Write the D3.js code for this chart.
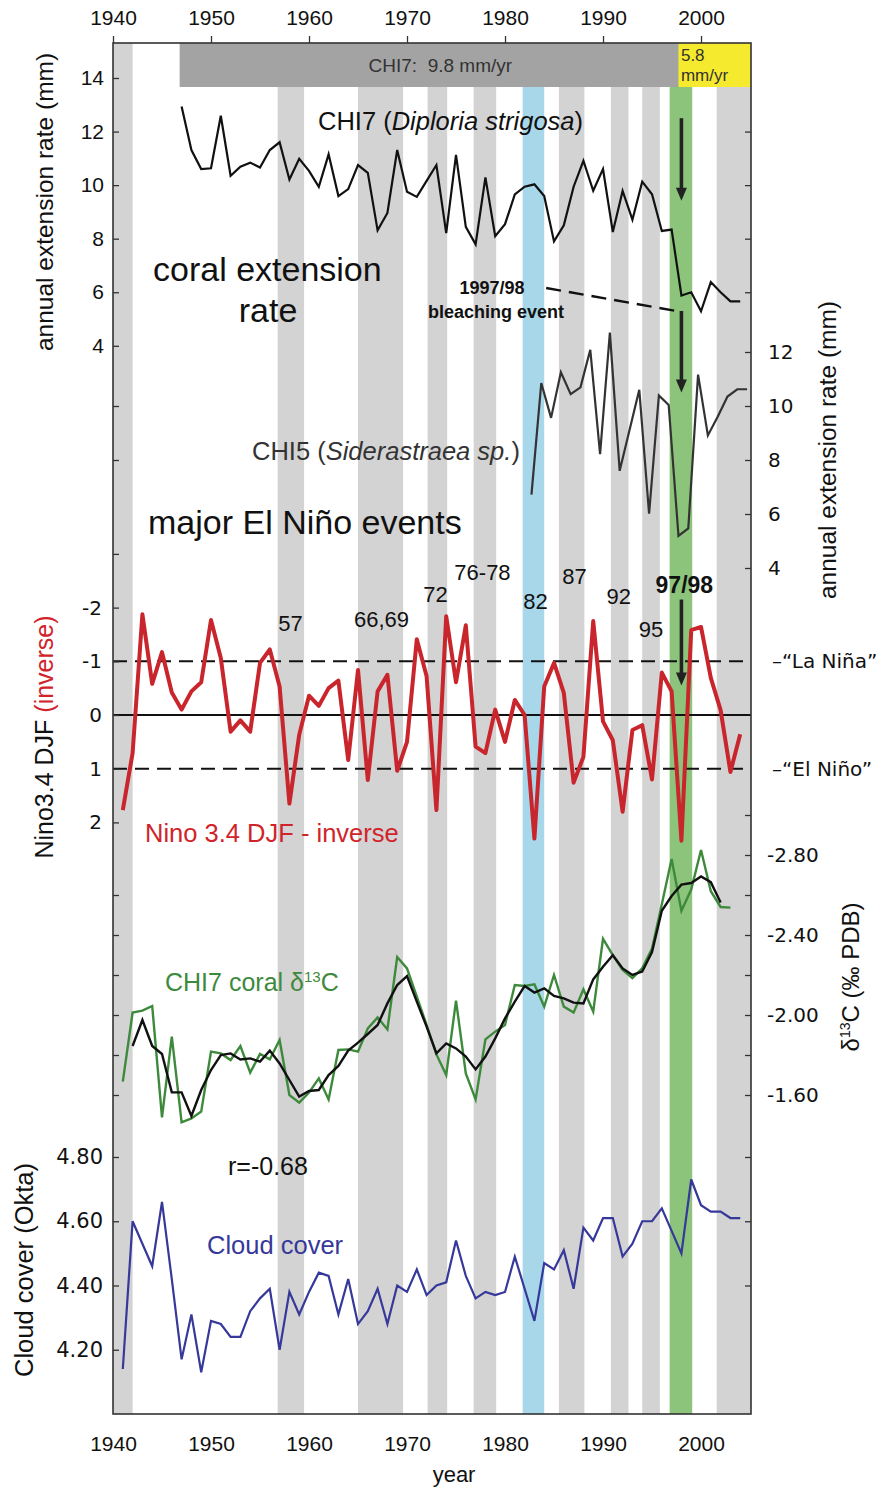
<!DOCTYPE html>
<html><head><meta charset="utf-8">
<script src="https://cdn.jsdelivr.net/npm/d3@7"></script>
<style>
body{margin:0;background:#fff;}
svg{display:block;font-family:"Liberation Sans",Arial,sans-serif;}
.ax path.domain{display:none;}
.ax line{stroke:#333;stroke-width:1.3;}
.ax text{fill:#111;}
</style></head><body>
<svg id="chart" width="877" height="1489"></svg>
<script>
// ---------------- DATA ----------------
const yearTicks = [1940, 1950, 1960, 1970, 1980, 1990, 2000];

// El Niño shading bands [start, end] (years)
const ninoBands = [[1940, 1942], [1956.8, 1959.5], [1965, 1969.6], [1972.1, 1974.1], [1976.8, 1979.1],
                   [1985.5, 1988.1], [1990.8, 1992.6], [1994.0, 1995.8], [2001.6, 2005.1]];
const band8283 = [1981.8, 1984.0];
const band9798 = [1996.8, 1999.1];
const chi7Period = [1946.8, 1997.7];
const chi7PostPeriod = [1997.7, 2005.1];

// CHI7 (Diploria strigosa) annual extension rate (mm), 1947-2004
const chi7Years = d3.range(1947, 2005);
const chi7Ext = [12.94, 11.31, 10.6, 10.63, 12.59, 10.35, 10.69, 10.84, 10.66, 11.31,
                 11.6, 10.21, 10.98, 10.53, 9.94, 11.15, 9.59, 9.85, 10.75, 10.46,
                 8.31, 8.96, 11.31, 9.75, 9.56, 10.16, 10.75, 8.21, 11.13, 8.44,
                 7.79, 10.29, 8.09, 8.54, 9.65, 9.94, 10.03, 9.59, 7.9, 8.5,
                 9.94, 10.91, 9.79, 10.6, 8.25, 9.78, 8.71, 10.13, 9.66, 8.29,
                 8.34, 5.88, 6.0, 5.29, 6.38, 6.0, 5.66, 5.66];

// CHI5 (Siderastraea sp.) annual extension rate (mm)
const chi5Years = [1982.7, 1983.7, 1984.7, 1985.7, 1986.7, 1987.7, 1988.7, 1989.7, 1990.7, 1991.7,
                   1992.7, 1993.7, 1994.7, 1995.7, 1996.7, 1997.7, 1998.7, 1999.7, 2000.7, 2001.7,
                   2002.7, 2003.7, 2004.7];
const chi5Ext = [6.72, 10.85, 9.56, 11.25, 10.44, 10.69, 12.08, 8.22, 12.72, 7.6,
                 9.1, 10.6, 6.01, 10.39, 10.04, 5.19, 5.47, 11.16, 8.91, 9.6,
                 10.35, 10.62, 10.62];

// Nino3.4 DJF (inverse), 1941-2004
const ninoYears = d3.range(1941, 2005);
const ninoInv = [1.77, 0.71, -1.875, -0.58, -1.17, -0.42, -0.1, -0.44, -0.61, -1.77,
                 -1.06, 0.31, 0.1, 0.31, -0.97, -1.22, -0.53, 1.65, 0.37, -0.36,
                 -0.17, -0.5, -0.64, 0.84, -0.84, 1.21, -0.44, -0.75, 1.04, 0.5,
                 -1.41, -0.72, 1.77, -1.84, -0.61, -1.67, 0.59, 0.71, -0.1, 0.5,
                 -0.28, 0.0, 2.3, -0.53, -0.97, -0.41, 1.26, 0.78, -1.75, 0.12,
                 0.47, 1.8, 0.28, 0.19, 1.2, -0.79, -0.44, 2.34, -1.58, -1.64,
                 -0.69, -0.09, 1.06, 0.36];

// CHI7 coral d13C (per mil PDB), 1941-2003
const d13Years = d3.range(1941, 2004);
const d13Raw = [-1.667, -2.012, -2.022, -2.045, -1.488, -1.892, -1.463, -1.483, -1.517, -1.817,
                -1.808, -1.775, -1.845, -1.712, -1.805, -1.778, -1.875, -1.60, -1.562, -1.612,
                -1.683, -1.578, -1.825, -1.828, -1.817, -1.933, -1.988, -1.928, -2.29, -2.233,
                -2.092, -1.95, -1.803, -1.70, -2.072, -1.708, -1.578, -1.878, -1.917, -1.95,
                -2.15, -2.145, -2.153, -2.042, -2.2, -2.042, -2.012, -2.128, -2.017, -2.381,
                -2.299, -2.225, -2.184, -2.233, -2.332, -2.554, -2.78, -2.521, -2.627, -2.825,
                -2.619, -2.54, -2.537];
// smoothed d13C, 1942-2002
const d13SmYears = d3.range(1942, 2003);
const d13Smooth = [-1.845, -1.975, -1.845, -1.805, -1.613, -1.613, -1.495, -1.625, -1.725, -1.8,
                   -1.808, -1.778, -1.783, -1.767, -1.822, -1.758, -1.675, -1.592, -1.62, -1.625,
                   -1.7, -1.745, -1.822, -1.862, -1.905, -1.95, -2.058, -2.15, -2.195, -2.067,
                   -1.942, -1.808, -1.858, -1.833, -1.792, -1.728, -1.792, -1.883, -1.983, -2.067,
                   -2.145, -2.112, -2.133, -2.095, -2.083, -2.062, -2.058, -2.178, -2.241, -2.299,
                   -2.233, -2.2, -2.217, -2.315, -2.521, -2.595, -2.652, -2.66, -2.693, -2.664,
                   -2.562];

// Cloud cover (Okta), 1941-2004
const cloudYears = d3.range(1941, 2005);
const cloud = [4.14, 4.60, 4.53, 4.46, 4.66, 4.42, 4.17, 4.31, 4.13, 4.29,
               4.28, 4.24, 4.24, 4.32, 4.36, 4.39, 4.20, 4.38, 4.31, 4.38,
               4.44, 4.43, 4.31, 4.42, 4.28, 4.32, 4.39, 4.28, 4.40, 4.38,
               4.45, 4.37, 4.40, 4.41, 4.54, 4.43, 4.36, 4.38, 4.37, 4.38,
               4.49, 4.39, 4.29, 4.47, 4.45, 4.51, 4.39, 4.58, 4.54, 4.61,
               4.61, 4.49, 4.53, 4.60, 4.60, 4.64, 4.57, 4.50, 4.73, 4.65,
               4.63, 4.63, 4.61, 4.61];

const eventLabels = [
  {t: "57", yr: 1958.1, v: -1.72, bold: false},
  {t: "66,69", yr: 1967.4, v: -1.78, bold: false},
  {t: "72", yr: 1972.9, v: -2.25, bold: false},
  {t: "76-78", yr: 1977.7, v: -2.66, bold: false},
  {t: "82", yr: 1983.1, v: -2.12, bold: false},
  {t: "87", yr: 1987.1, v: -2.59, bold: false},
  {t: "92", yr: 1991.6, v: -2.22, bold: false},
  {t: "95", yr: 1994.9, v: -1.6, bold: false},
  {t: "97/98", yr: 1998.3, v: -2.42, bold: true}
];

// ---------------- SCALES ----------------
const X0 = 113, X1 = 751, Y0 = 43, Y1 = 1414;
const x = d3.scaleLinear().domain([1940, 2005.1]).range([X0, X1]);
const yChi7 = d3.scaleLinear().domain([4, 14]).range([345.8, 78]);
const yChi5 = d3.scaleLinear().domain([4, 12]).range([568, 352]);
const yNino = d3.scaleLinear().domain([-2, 2]).range([607.6, 822.4]);
const yD13 = d3.scaleLinear().domain([-2.8, -1.6]).range([855, 1095]);
const yCloud = d3.scaleLinear().domain([4.0, 4.8]).range([Y1, 1157]);

const svg = d3.select("#chart");

// ---------------- BACKGROUND BANDS ----------------
const gB = svg.append("g");
gB.selectAll("rect.nb").data(ninoBands).join("rect")
  .attr("x", d => x(d[0])).attr("width", d => x(d[1]) - x(d[0]))
  .attr("y", Y0).attr("height", Y1 - Y0).attr("fill", "#d3d3d3");
gB.append("rect").attr("x", x(band8283[0])).attr("width", x(band8283[1]) - x(band8283[0]))
  .attr("y", Y0).attr("height", Y1 - Y0).attr("fill", "#a9d7ea");
gB.append("rect").attr("x", x(band9798[0])).attr("width", x(band9798[1]) - x(band9798[0]))
  .attr("y", Y0).attr("height", Y1 - Y0).attr("fill", "#8dc47c");
// CHI7 mean-rate bars
gB.append("rect").attr("x", x(chi7Period[0])).attr("width", x(chi7Period[1]) - x(chi7Period[0]))
  .attr("y", Y0).attr("height", 44).attr("fill", "#a3a3a3");
gB.append("rect").attr("x", x(chi7PostPeriod[0])).attr("width", x(chi7PostPeriod[1]) - x(chi7PostPeriod[0]))
  .attr("y", Y0).attr("height", 44).attr("fill", "#f6ea2e");
svg.append("text").attr("x", x(1973.4)).attr("y", 72).attr("text-anchor", "middle")
  .attr("font-size", 19).attr("fill", "#333").style("white-space", "pre").text("CHI7:  9.8 mm/yr");
svg.append("text").attr("x", x(1997.95)).attr("y", 61).attr("font-size", 17).attr("fill", "#333").text("5.8");
svg.append("text").attr("x", x(1997.95)).attr("y", 81).attr("font-size", 17).attr("fill", "#333").text("mm/yr");

// ---------------- REFERENCE LINES ----------------
svg.append("line").attr("x1", X0).attr("x2", X1).attr("y1", yNino(0)).attr("y2", yNino(0))
  .attr("stroke", "#111").attr("stroke-width", 1.8);
[-1, 1].forEach(v => {
  svg.append("line").attr("x1", X0).attr("x2", X1).attr("y1", yNino(v)).attr("y2", yNino(v))
    .attr("stroke", "#111").attr("stroke-width", 2).attr("stroke-dasharray", "14,8");
});

// ---------------- SERIES ----------------
const line = (xs, ys, ysc) => d3.line().x((d, i) => x(xs[i])).y(d => ysc(d))(ys);

svg.append("path").attr("d", line(chi7Years, chi7Ext, yChi7))
  .attr("fill", "none").attr("stroke", "#111").attr("stroke-width", 2.2);
svg.append("path").attr("d", line(chi5Years, chi5Ext, yChi5))
  .attr("fill", "none").attr("stroke", "#333").attr("stroke-width", 2.2);
svg.append("path").attr("d", line(ninoYears, ninoInv, yNino))
  .attr("fill", "none").attr("stroke", "#c9252c").attr("stroke-width", 4).attr("stroke-linejoin", "round");
svg.append("path").attr("d", line(d13Years, d13Raw, yD13))
  .attr("fill", "none").attr("stroke", "#3e8a3c").attr("stroke-width", 2.4);
svg.append("path").attr("d", line(d13SmYears, d13Smooth, yD13))
  .attr("fill", "none").attr("stroke", "#111").attr("stroke-width", 2.4);
svg.append("path").attr("d", line(cloudYears, cloud, yCloud))
  .attr("fill", "none").attr("stroke", "#36389a").attr("stroke-width", 2.2);

// ---------------- FRAME & AXES ----------------
svg.append("rect").attr("x", X0).attr("y", Y0).attr("width", X1 - X0).attr("height", Y1 - Y0)
  .attr("fill", "none").attr("stroke", "#333").attr("stroke-width", 1.6);

function addAxis(axis, tx, ty, font, size) {
  const g = svg.append("g").attr("class", "ax").attr("transform", `translate(${tx},${ty})`).call(axis);
  g.selectAll("text").attr("font-size", size).attr("font-family", font);
  return g;
}
const fmtH = d => String(d);
const dejavu = '"DejaVu Sans", sans-serif';
const lib = '"Liberation Sans", Arial, sans-serif';

addAxis(d3.axisTop(x).tickValues(yearTicks).tickFormat(fmtH).tickSize(7).tickPadding(11), 0, Y0, lib, 21);
addAxis(d3.axisBottom(x).tickValues(yearTicks).tickFormat(fmtH).tickSize(0).tickPadding(22), 0, Y1, lib, 21);

addAxis(d3.axisLeft(yChi7).tickValues([14, 12, 10, 8, 6, 4]).tickFormat(fmtH).tickSize(-6).tickPadding(9), X0, 0, lib, 21);
addAxis(d3.axisLeft(yChi5).tickValues([10, 8]).tickFormat("").tickSize(-6), X0, 0, lib, 20);
addAxis(d3.axisLeft(yNino).tickValues([-3, -2, -1, 0, 1, 2]).tickFormat(d => d === -3 ? "" : String(d)).tickSize(-6).tickPadding(11), X0, 0, dejavu, 20);
addAxis(d3.axisLeft(yD13).tickValues([-2.6, -2.4, -2.2, -2.0, -1.8, -1.6]).tickFormat("").tickSize(-6), X0, 0, lib, 20);
addAxis(d3.axisLeft(yCloud).tickValues([4.8, 4.6, 4.4, 4.2]).tickFormat(d => d.toFixed(2)).tickSize(-6).tickPadding(10), X0, 0, dejavu, 21);

addAxis(d3.axisRight(yChi7).tickValues([12, 10, 8, 6]).tickFormat("").tickSize(-6), X1, 0, lib, 20);
addAxis(d3.axisRight(yChi5).tickValues([12, 10, 8, 6, 4]).tickFormat(fmtH).tickSize(-6).tickPadding(17), X1, 0, dejavu, 20);
addAxis(d3.axisRight(yD13).tickValues([-3.0, -2.8, -2.6, -2.4, -2.2, -2.0, -1.8, -1.6])
  .tickFormat(d => [-2.8, -2.4, -2.0, -1.6].some(v => Math.abs(v - d) < 1e-6) ? d.toFixed(2) : "")
  .tickSize(-6).tickPadding(16), X1, 0, dejavu, 20);
addAxis(d3.axisRight(yCloud).tickValues([4.8, 4.6, 4.4]).tickFormat("").tickSize(-6), X1, 0, lib, 20);

// right-side La Niña / El Niño labels
svg.append("text").attr("x", X1 + 21).attr("y", yNino(-1) + 7).attr("font-size", 20).attr("font-family", dejavu).attr("fill", "#111").text("–“La Niña”");
svg.append("text").attr("x", X1 + 21).attr("y", yNino(1) + 7).attr("font-size", 20).attr("font-family", dejavu).attr("fill", "#111").text("–“El Niño”");

// axis titles
function vtitle(cx, cy, size) {
  return svg.append("text").attr("transform", `translate(${cx},${cy}) rotate(-90)`)
    .attr("text-anchor", "middle").attr("font-size", size).attr("fill", "#111");
}
vtitle(53, 202, 24.5).text("annual extension rate (mm)");
const nt = vtitle(53, 737, 25);
nt.append("tspan").text("Nino3.4 DJF ");
nt.append("tspan").attr("fill", "#d1232a").text("(inverse)");
vtitle(33, 1270, 25.5).text("Cloud cover (Okta)");
vtitle(836, 450, 23).attr("textLength", 298).attr("lengthAdjust", "spacingAndGlyphs").text("annual extension rate (mm)");
const dt = vtitle(859, 977, 24);
dt.append("tspan").text("δ");
dt.append("tspan").attr("font-size", 14).attr("dy", -9).text("13");
dt.append("tspan").attr("dy", 9).text("C (‰ PDB)");
svg.append("text").attr("x", x(1974.8)).attr("y", 1482).attr("text-anchor", "middle").attr("font-size", 22).attr("fill", "#111").text("year");

// ---------------- ANNOTATIONS ----------------
const chiT = svg.append("text").attr("x", 318).attr("y", 130).attr("font-size", 25.5).attr("fill", "#111");
chiT.append("tspan").text("CHI7 (");
chiT.append("tspan").attr("font-style", "italic").text("Diploria strigosa");
chiT.append("tspan").text(")");

svg.append("text").attr("x", 153).attr("y", 281).attr("font-size", 34).attr("fill", "#111").text("coral extension");
svg.append("text").attr("x", 268).attr("y", 322).attr("text-anchor", "middle").attr("font-size", 34).attr("fill", "#111").text("rate");

svg.append("text").attr("x", 492).attr("y", 294).attr("text-anchor", "middle").attr("font-size", 18).attr("font-weight", "bold").attr("fill", "#111").text("1997/98");
svg.append("text").attr("x", 496).attr("y", 318).attr("text-anchor", "middle").attr("font-size", 18).attr("font-weight", "bold").attr("fill", "#111").text("bleaching event");

const c5 = svg.append("text").attr("x", 252).attr("y", 460).attr("font-size", 25.5).attr("fill", "#333");
c5.append("tspan").text("CHI5 (");
c5.append("tspan").attr("font-style", "italic").text("Siderastraea sp.");
c5.append("tspan").text(")");

svg.append("text").attr("x", 148).attr("y", 534).attr("font-size", 34).attr("fill", "#111").text("major El Niño events");

svg.selectAll("text.ev").data(eventLabels).join("text").attr("class", "ev")
  .attr("x", d => x(d.yr)).attr("y", d => yNino(d.v) + 8).attr("text-anchor", "middle")
  .attr("font-size", d => d.bold ? 23 : 22).attr("font-weight", d => d.bold ? "bold" : "normal")
  .attr("fill", "#111").text(d => d.t);

svg.append("text").attr("x", 145).attr("y", 842).attr("font-size", 25.5).attr("fill", "#d1232a").text("Nino 3.4 DJF - inverse");

const gt = svg.append("text").attr("x", 165).attr("y", 991).attr("font-size", 25).attr("fill", "#3e8a3c");
gt.append("tspan").text("CHI7 coral δ");
gt.append("tspan").attr("font-size", 15).attr("dy", -9).text("13");
gt.append("tspan").attr("dy", 9).text("C");

svg.append("text").attr("x", 228).attr("y", 1175).attr("font-size", 25).attr("fill", "#111").text("r=-0.68");
svg.append("text").attr("x", 207).attr("y", 1254).attr("font-size", 25.5).attr("fill", "#36389a").text("Cloud cover");

// bleaching dashed connector
svg.append("line").attr("x1", x(1984.2)).attr("y1", yChi7(6.16)).attr("x2", x(1997.9)).attr("y2", yChi7(5.27))
  .attr("stroke", "#111").attr("stroke-width", 2.4).attr("stroke-dasharray", "15,8");

// arrows at 1998
function arrow(yr, ya, yb) {
  const xa = x(yr);
  svg.append("line").attr("x1", xa).attr("x2", xa).attr("y1", ya).attr("y2", yb - 10)
    .attr("stroke", "#222").attr("stroke-width", 3.6);
  svg.append("path").attr("d", `M${xa - 5.5},${yb - 13}L${xa + 5.5},${yb - 13}L${xa},${yb}Z`).attr("fill", "#222");
}
arrow(1998, yChi7(12.5), yChi7(9.42));
arrow(1998, yChi7(5.3), yChi5(10.5));
arrow(1998, yNino(-2.15), yNino(-0.55));
</script>
</body></html>
